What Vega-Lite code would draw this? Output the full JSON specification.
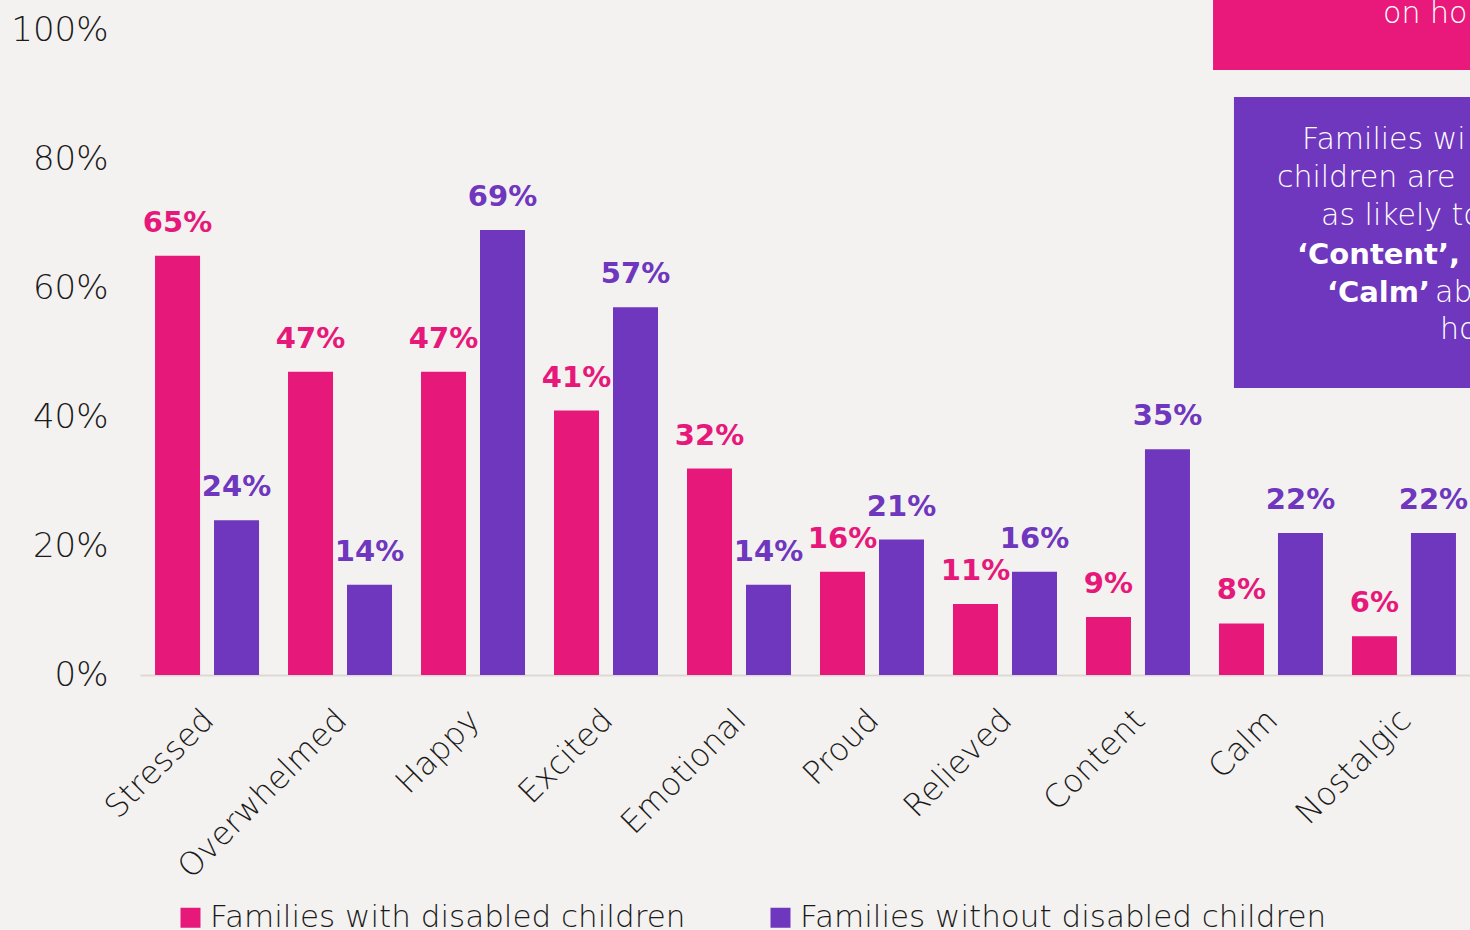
{
  "$schema": "https://vega.github.io/schema/vega-lite/v6.json",
  "width": 1331,
  "height": 645,
  "autosize": {"type": "none"},
  "padding": {"left": 140, "top": 30, "right": 0, "bottom": 255},
  "background": "#f4f2f0",
  "config": {
    "view": {"stroke": null},
    "font": "DejaVu Sans"
  },
  "resolve": {"scale": {"x": "independent", "y": "independent"}},
  "layer": [
    {
      "data": {
        "values": [
          {"category": "Stressed", "group": "Families with disabled children", "value": 0.65},
          {"category": "Stressed", "group": "Families without disabled children", "value": 0.24},
          {"category": "Overwhelmed", "group": "Families with disabled children", "value": 0.47},
          {"category": "Overwhelmed", "group": "Families without disabled children", "value": 0.14},
          {"category": "Happy", "group": "Families with disabled children", "value": 0.47},
          {"category": "Happy", "group": "Families without disabled children", "value": 0.69},
          {"category": "Excited", "group": "Families with disabled children", "value": 0.41},
          {"category": "Excited", "group": "Families without disabled children", "value": 0.57},
          {"category": "Emotional", "group": "Families with disabled children", "value": 0.32},
          {"category": "Emotional", "group": "Families without disabled children", "value": 0.14},
          {"category": "Proud", "group": "Families with disabled children", "value": 0.16},
          {"category": "Proud", "group": "Families without disabled children", "value": 0.21},
          {"category": "Relieved", "group": "Families with disabled children", "value": 0.11},
          {"category": "Relieved", "group": "Families without disabled children", "value": 0.16},
          {"category": "Content", "group": "Families with disabled children", "value": 0.09},
          {"category": "Content", "group": "Families without disabled children", "value": 0.35},
          {"category": "Calm", "group": "Families with disabled children", "value": 0.08},
          {"category": "Calm", "group": "Families without disabled children", "value": 0.22},
          {"category": "Nostalgic", "group": "Families with disabled children", "value": 0.06},
          {"category": "Nostalgic", "group": "Families without disabled children", "value": 0.22}
        ]
      },
      "encoding": {
        "x": {
          "field": "category", "type": "nominal", "sort": null,
          "scale": {"paddingInner": 0.218, "paddingOuter": 0.113},
          "axis": {
            "title": null, "labelAngle": -45, "labelFontSize": 32, "labelColor": "#1b1b1b",
            "ticks": false, "domainColor": "#dcd8d4", "domainWidth": 2, "labelPadding": 29,
            "labelOffset": -9, "labelLimit": 0, "labelFontWeight": 300
          }
        },
        "xOffset": {
          "field": "group", "type": "nominal",
          "scale": {"paddingInner": 0.237, "paddingOuter": 0}
        },
        "y": {
          "field": "value", "type": "quantitative",
          "scale": {"domain": [0, 1]},
          "axis": {
            "title": null, "format": ".0%", "values": [0, 0.2, 0.4, 0.6, 0.8, 1],
            "labelFontSize": 34, "labelColor": "#1b1b1b", "ticks": false, "domain": false,
            "grid": false, "labelPadding": 32, "labelFontWeight": 300
          }
        },
        "color": {
          "field": "group", "type": "nominal",
          "scale": {
            "domain": ["Families with disabled children", "Families without disabled children"],
            "range": ["#e6197b", "#6f36be"]
          },
          "legend": {
            "title": null, "orient": "none", "legendX": 35, "legendY": 872,
            "direction": "horizontal", "symbolType": "square", "symbolSize": 400,
            "symbolStrokeWidth": 0, "symbolOpacity": 1, "labelFontSize": 31,
            "labelColor": "#1b1b1b", "labelLimit": 1000, "columnPadding": 79, "labelOffset": 4,
            "labelFontWeight": 300
          }
        }
      },
      "layer": [
        {"mark": {"type": "bar"}},
        {
          "mark": {"type": "text", "fontSize": 29, "fontWeight": "bold", "dy": -24, "baseline": "alphabetic", "align": "center"},
          "encoding": {"text": {"field": "value", "type": "quantitative", "format": ".0%"}}
        }
      ]
    },
    {
      "data": {"values": [{}]},
      "mark": {"type": "rect", "color": "#e8197a"},
      "encoding": {
        "x": {"datum": 80.62, "type": "quantitative", "scale": {"domain": [0, 100]}, "axis": null},
        "x2": {"datum": 102},
        "y": {"datum": 1.06, "type": "quantitative", "scale": {"domain": [0, 1]}, "axis": null},
        "y2": {"datum": 0.938}
      }
    },
    {
      "data": {"values": [{}]},
      "mark": {"type": "rect", "color": "#6f36be"},
      "encoding": {
        "x": {"datum": 82.19, "type": "quantitative", "scale": {"domain": [0, 100]}, "axis": null},
        "x2": {"datum": 102},
        "y": {"datum": 0.896, "type": "quantitative", "scale": {"domain": [0, 1]}, "axis": null},
        "y2": {"datum": 0.445}
      }
    },
    {
      "data": {"values": [{}]},
      "mark": {"type": "text", "text": "on ho", "color": "white", "fontSize": 30, "fontWeight": 300, "align": "left", "baseline": "middle"},
      "encoding": {
        "x": {"datum": 93.39, "type": "quantitative", "scale": {"domain": [0, 100]}, "axis": null},
        "y": {"datum": 1.025, "type": "quantitative", "scale": {"domain": [0, 1]}, "axis": null}
      }
    },
    {
      "data": {"values": [{}]},
      "mark": {"type": "text", "text": "Families wi", "color": "white", "fontSize": 30, "fontWeight": 300, "align": "left", "baseline": "middle"},
      "encoding": {
        "x": {"datum": 87.3, "type": "quantitative", "scale": {"domain": [0, 100]}, "axis": null},
        "y": {"datum": 0.829, "type": "quantitative", "scale": {"domain": [0, 1]}, "axis": null}
      }
    },
    {
      "data": {"values": [{}]},
      "mark": {"type": "text", "text": "children are", "color": "white", "fontSize": 30, "fontWeight": 300, "align": "left", "baseline": "middle"},
      "encoding": {
        "x": {"datum": 85.42, "type": "quantitative", "scale": {"domain": [0, 100]}, "axis": null},
        "y": {"datum": 0.771, "type": "quantitative", "scale": {"domain": [0, 1]}, "axis": null}
      }
    },
    {
      "data": {"values": [{}]},
      "mark": {"type": "text", "text": "as likely to", "color": "white", "fontSize": 30, "fontWeight": 300, "align": "left", "baseline": "middle"},
      "encoding": {
        "x": {"datum": 88.73, "type": "quantitative", "scale": {"domain": [0, 100]}, "axis": null},
        "y": {"datum": 0.712, "type": "quantitative", "scale": {"domain": [0, 1]}, "axis": null}
      }
    },
    {
      "data": {"values": [{}]},
      "mark": {"type": "text", "text": "‘Content’, ‘", "color": "white", "fontSize": 29, "fontWeight": "bold", "align": "left", "baseline": "middle"},
      "encoding": {
        "x": {"datum": 86.93, "type": "quantitative", "scale": {"domain": [0, 100]}, "axis": null},
        "y": {"datum": 0.651, "type": "quantitative", "scale": {"domain": [0, 1]}, "axis": null}
      }
    },
    {
      "data": {"values": [{}]},
      "mark": {"type": "text", "text": "‘Calm’", "color": "white", "fontSize": 29, "fontWeight": "bold", "align": "left", "baseline": "middle"},
      "encoding": {
        "x": {"datum": 89.18, "type": "quantitative", "scale": {"domain": [0, 100]}, "axis": null},
        "y": {"datum": 0.592, "type": "quantitative", "scale": {"domain": [0, 1]}, "axis": null}
      }
    },
    {
      "data": {"values": [{}]},
      "mark": {"type": "text", "text": "ab", "color": "white", "fontSize": 30, "fontWeight": 300, "align": "left", "baseline": "middle"},
      "encoding": {
        "x": {"datum": 97.3, "type": "quantitative", "scale": {"domain": [0, 100]}, "axis": null},
        "y": {"datum": 0.592, "type": "quantitative", "scale": {"domain": [0, 1]}, "axis": null}
      }
    },
    {
      "data": {"values": [{}]},
      "mark": {"type": "text", "text": "ho", "color": "white", "fontSize": 30, "fontWeight": 300, "align": "left", "baseline": "middle"},
      "encoding": {
        "x": {"datum": 97.67, "type": "quantitative", "scale": {"domain": [0, 100]}, "axis": null},
        "y": {"datum": 0.535, "type": "quantitative", "scale": {"domain": [0, 1]}, "axis": null}
      }
    }
  ]
}
